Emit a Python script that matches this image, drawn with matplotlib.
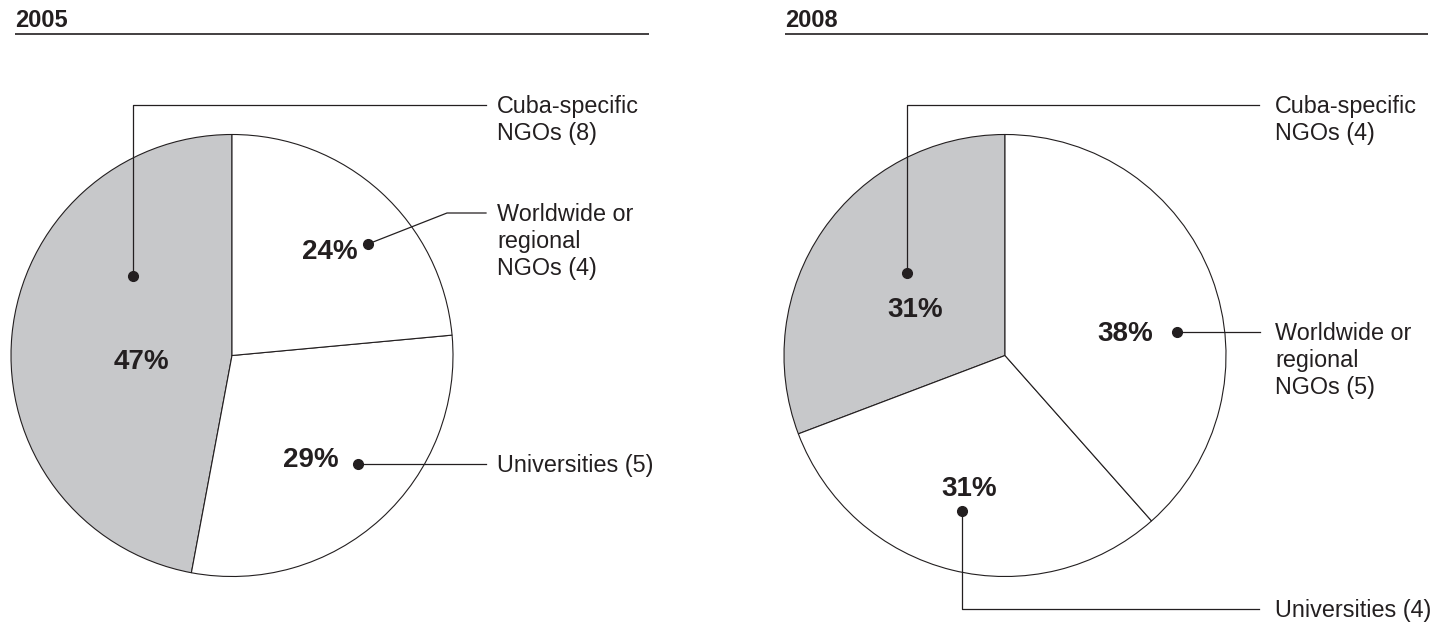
import matplotlib.pyplot as plt

plt.rcParams['font.family'] = ['Liberation Sans', 'DejaVu Sans']

# --- Data ---
years = ['2005', '2008']
categories = ['Cuba-specific\nNGOs', 'Universities', 'Worldwide or\nregional\nNGOs']
counts_2005 = [8, 5, 4]
counts_2008 = [4, 4, 5]

# --- Style ---
W, H = 1444, 626
INK = '#231f20'
GRAY = '#c7c8ca'
slice_colors = [GRAY, 'white', 'white']
LINE_STEP = 27  # px between label baselines

# --- Layout (pixel coords, origin top-left) ---
layout = {
    '2005': {
        'center': (232, 355.5), 'radius': 221,
        'title_x': 15, 'rule': (15, 649),
        'pct': [(141, 359), (311, 457), (330, 249)],
        'dot': [(133, 276), (358, 464), (368, 244)],
        'elbow': [[(133, 105)], [], [(447, 213)]],
        'end': [(486, 105), (486, 464), (486, 213)],
        'text_x': 497,
    },
    '2008': {
        'center': (1005, 355.5), 'radius': 221,
        'title_x': 785, 'rule': (785, 1428),
        'pct': [(915, 307), (969, 486), (1125, 331)],
        'dot': [(907, 273), (962, 511), (1177, 332)],
        'elbow': [[(907, 105)], [(962, 609)], []],
        'end': [(1259, 105), (1259, 609), (1260, 332)],
        'text_x': 1275,
    },
}


def fy(y):
    return H - y


fig = plt.figure(figsize=(W / 100, H / 100), dpi=100)
ax = fig.add_axes([0, 0, 1, 1])

for year, counts in zip(years, [counts_2005, counts_2008]):
    L = layout[year]
    cx, cy = L['center']
    ax.pie(counts, center=(cx, fy(cy)), radius=L['radius'], startangle=90,
           counterclock=True, colors=slice_colors,
           wedgeprops=dict(edgecolor=INK, linewidth=0.8))

    # title + rule
    ax.text(L['title_x'], fy(27), year, fontsize=17, fontweight='bold',
            color=INK, ha='left', va='baseline')
    ax.plot(L['rule'], [fy(34), fy(34)], color=INK, lw=1.2,
            solid_capstyle='butt')

    total = sum(counts)
    for i, (cat, n) in enumerate(zip(categories, counts)):
        pct = round(n / total * 100)
        px, py = L['pct'][i]
        ax.text(px, fy(py + 10), f'{pct}%', fontsize=20, fontweight='bold',
                color=INK, ha='center', va='baseline')

        pts = [L['dot'][i]] + L['elbow'][i] + [L['end'][i]]
        ax.plot([p[0] for p in pts], [fy(p[1]) for p in pts], color=INK,
                lw=0.9, zorder=3)
        dx, dy = L['dot'][i]
        ax.plot(dx, fy(dy), 'o', color=INK, ms=7, zorder=4)

        # label lines, first baseline just under the leader
        ey = L['end'][i][1]
        lines = f'{cat} ({n})'.split('\n')
        for k, line in enumerate(lines):
            ax.text(L['text_x'], fy(ey + 8 + k * LINE_STEP), line,
                    fontsize=16.8, color=INK, ha='left', va='baseline')

ax.set_xlim(0, W)
ax.set_ylim(0, H)
ax.set_aspect('equal')
ax.axis('off')

fig.savefig('out.png', dpi=100, facecolor='white')
